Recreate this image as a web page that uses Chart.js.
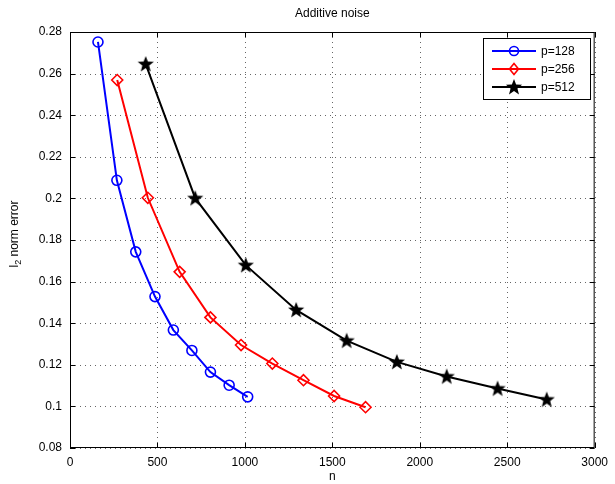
<!DOCTYPE html>
<html>
<head>
<meta charset="utf-8">
<script src="https://cdn.jsdelivr.net/npm/chart.js@4"></script>
<style>
  html, body { margin: 0; padding: 0; background: #fff; }
  #wrap { width: 615px; height: 484px; }
</style>
</head>
<body>
<div id="wrap"><canvas id="chartCanvas" width="615" height="484"></canvas></div>
<script>
// values
var n128 = [160, 268, 376, 486, 591, 697, 803, 910, 1016]
var err128 = [0.2752, 0.2087, 0.1743, 0.1528, 0.1367, 0.1269, 0.1165, 0.1102, 0.1046]

var n256 = [270, 445, 627, 803, 978, 1157, 1335, 1510, 1690]
var err256 = [0.2569, 0.2003, 0.1647, 0.1428, 0.1295, 0.1206, 0.1126, 0.1050, 0.0996]

var n512 = [433, 716, 1005, 1293, 1582, 1869, 2154, 2445, 2726]
var err512 = [0.2646, 0.2001, 0.1679, 0.1464, 0.1316, 0.1214, 0.1144, 0.1086, 0.1033]

var labels = ['p=128', 'p=256', 'p=512']
var colors = ['#0000ff', '#ff0000', '#000000']

var FONT = 'Liberation Sans, Arial, Helvetica, sans-serif'

function pts(xs, ys) {
  return xs.map((x, i) => ({ x: x, y: ys[i] }))
}

function starPath(ctx, cx, cy, ro, ri) {
  ctx.beginPath()
  for (var i = 0; i < 10; i++) {
    var r = i % 2 == 0 ? ro : ri
    var a = -Math.PI / 2 + i * Math.PI / 5
    var px = cx + r * Math.cos(a), py = cy + r * Math.sin(a)
    if (i == 0) ctx.moveTo(px, py); else ctx.lineTo(px, py)
  }
  ctx.closePath()
}

// filled five point star used as point style
var starImg = document.createElement('canvas')
starImg.width = 18; starImg.height = 18
var sc = starImg.getContext('2d')
sc.fillStyle = '#000'
starPath(sc, 9, 9.5, 8.5, 3.6)
sc.fill()

function drawMarker(ctx, kind, x, y, color) {
  ctx.save()
  ctx.strokeStyle = color
  ctx.fillStyle = color
  ctx.lineWidth = 1.6
  ctx.setLineDash([])
  if (kind == 'circle') {
    ctx.beginPath(); ctx.arc(x, y, 4.5, 0, Math.PI * 2); ctx.stroke()
  } else if (kind == 'diamond') {
    ctx.beginPath()
    ctx.moveTo(x, y - 5.5); ctx.lineTo(x + 4.5, y); ctx.lineTo(x, y + 5.5); ctx.lineTo(x - 4.5, y)
    ctx.closePath(); ctx.stroke()
  } else {
    starPath(ctx, x, y + 0.5, 8.5, 3.6); ctx.fill()
  }
  ctx.restore()
}

var decor = {
  id: 'decor',
  beforeDatasetsDraw(chart) {
    // dotted grid, matlab style
    var ctx = chart.ctx
    var a = chart.chartArea
    var xs = chart.scales.x, ys = chart.scales.y
    ctx.save()
    ctx.strokeStyle = '#666'
    ctx.lineWidth = 1
    ctx.setLineDash([1, 4])
    ctx.beginPath()
    xs.ticks.forEach(t => {
      var px = Math.round(xs.getPixelForValue(t.value)) + 0.5
      ctx.moveTo(px, a.top); ctx.lineTo(px, a.bottom)
    })
    ys.ticks.forEach(t => {
      var py = Math.round(ys.getPixelForValue(t.value)) + 0.5
      ctx.moveTo(a.left, py); ctx.lineTo(a.right, py)
    })
    ctx.stroke()
    ctx.restore()
  },
  afterDraw(chart) {
    var ctx = chart.ctx
    var a = chart.chartArea
    var xs = chart.scales.x, ys = chart.scales.y
    ctx.save()
    // frame
    ctx.strokeStyle = '#000'
    ctx.lineWidth = 1
    ctx.setLineDash([])
    ctx.strokeRect(a.left + 0.5, a.top + 0.5, a.right - a.left - 1, a.bottom - a.top - 1)
    // inner ticks
    ctx.beginPath()
    xs.ticks.forEach(t => {
      var px = Math.round(xs.getPixelForValue(t.value)) + 0.5
      ctx.moveTo(px, a.bottom); ctx.lineTo(px, a.bottom - 5)
      ctx.moveTo(px, a.top); ctx.lineTo(px, a.top + 5)
    })
    ys.ticks.forEach(t => {
      var py = Math.round(ys.getPixelForValue(t.value)) + 0.5
      ctx.moveTo(a.left, py); ctx.lineTo(a.left + 5, py)
      ctx.moveTo(a.right, py); ctx.lineTo(a.right - 5, py)
    })
    ctx.stroke()

    // titles
    ctx.fillStyle = '#000'
    ctx.font = '12px ' + FONT
    ctx.textAlign = 'center'
    ctx.textBaseline = 'middle'
    var cx = (a.left + a.right) / 2
    ctx.fillText('Additive noise', cx, 14)
    ctx.fillText('n', cx, 477)

    // y title with subscript
    ctx.save()
    ctx.translate(15, 234)
    ctx.rotate(-Math.PI / 2)
    var w1 = ctx.measureText('l').width
    ctx.font = '9px ' + FONT
    var w2 = ctx.measureText('2').width
    ctx.font = '12px ' + FONT
    var w3 = ctx.measureText(' norm error').width
    var x0 = -(w1 + w2 + w3) / 2
    ctx.textAlign = 'left'
    ctx.fillText('l', x0, 0)
    ctx.font = '9px ' + FONT
    ctx.fillText('2', x0 + w1, 4)
    ctx.font = '12px ' + FONT
    ctx.fillText(' norm error', x0 + w1 + w2, 0)
    ctx.restore()

    // legend
    var lx = 483, ly = 38, lw = 107, lh = 61
    ctx.fillStyle = '#fff'
    ctx.fillRect(lx, ly, lw, lh)
    ctx.strokeStyle = '#000'
    ctx.lineWidth = 1
    ctx.strokeRect(lx + 0.5, ly + 0.5, lw, lh)
    var kinds = ['circle', 'diamond', 'star']
    labels.forEach((lab, i) => {
      var yy = ly + 13 + i * 18
      ctx.strokeStyle = colors[i]
      ctx.lineWidth = 2
      ctx.beginPath(); ctx.moveTo(492, yy); ctx.lineTo(536, yy); ctx.stroke()
      drawMarker(ctx, kinds[i], 514, yy, colors[i])
      ctx.fillStyle = '#000'
      ctx.font = '12px ' + FONT
      ctx.textAlign = 'left'
      ctx.textBaseline = 'middle'
      ctx.fillText(lab, 541, yy + 1)
    })
    ctx.restore()
  }
}

new Chart(document.getElementById('chartCanvas'), {
  type: 'line',
  data: {
    datasets: [
      {
        label: labels[0], data: pts(n128, err128),
        borderColor: colors[0], borderWidth: 2, fill: false, tension: 0,
        pointStyle: 'circle', pointRadius: 5, pointBorderWidth: 1.6,
        pointBackgroundColor: 'rgba(0,0,0,0)', pointBorderColor: colors[0]
      },
      {
        label: labels[1], data: pts(n256, err256),
        borderColor: colors[1], borderWidth: 2, fill: false, tension: 0,
        pointStyle: 'rectRot', pointRadius: 5.5, pointBorderWidth: 1.6,
        pointBackgroundColor: 'rgba(0,0,0,0)', pointBorderColor: colors[1]
      },
      {
        label: labels[2], data: pts(n512, err512),
        borderColor: colors[2], borderWidth: 2, fill: false, tension: 0,
        pointStyle: starImg, pointRadius: 9,
        pointBackgroundColor: colors[2], pointBorderColor: colors[2]
      }
    ]
  },
  options: {
    responsive: false,
    animation: false,
    events: [],
    layout: { padding: { left: 0, right: 18, top: 32, bottom: 0 } },
    plugins: { legend: { display: false }, title: { display: false }, tooltip: { enabled: false } },
    scales: {
      x: {
        type: 'linear', min: 0, max: 3000,
        ticks: {
          stepSize: 500, color: '#000', padding: 7, maxRotation: 0, font: { family: FONT, size: 12 },
          callback: v => String(v)
        },
        grid: { display: false, drawTicks: false },
        border: { display: false },
        afterFit: s => { s.height = 36 }
      },
      y: {
        min: 0.08, max: 0.28,
        ticks: {
          stepSize: 0.02, color: '#000', padding: 8, font: { family: FONT, size: 12 },
          callback: v => String(parseFloat(v.toFixed(2)))
        },
        grid: { display: false, drawTicks: false },
        border: { display: false },
        afterFit: s => { s.width = 70 }
      }
    }
  },
  plugins: [decor]
})
</script>
</body>
</html>
